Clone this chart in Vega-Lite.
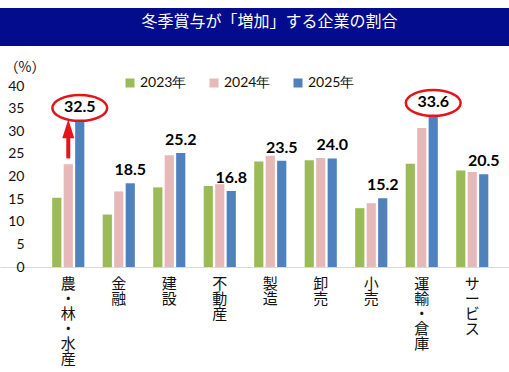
{
  "$schema": "https://vega.github.io/schema/vega-lite/v6.json",
  "padding": {"left": 0, "top": 8, "right": 0, "bottom": 0},
  "background": "white",
  "spacing": 0,
  "config": {"view": {"stroke": null}, "font": "Lato"},
  "vconcat": [
    {
      "width": 509,
      "height": 38,
      "view": {"fill": "#020C8C", "stroke": null},
      "data": {"values": [{"t": "冬季賞与が「増加」する企業の割合"}]},
      "mark": {"type": "text", "color": "white", "fontSize": 16, "font": "Noto Sans CJK JP", "dx": 15, "dy": -5},
      "encoding": {"text": {"field": "t"}}
    },
    {
      "width": 509,
      "height": 221,
      "data": {"values": [
        {"cat": "農・林・水産", "year": "2023年", "value": 15.3},
        {"cat": "農・林・水産", "year": "2024年", "value": 22.7},
        {"cat": "農・林・水産", "year": "2025年", "value": 32.5},
        {"cat": "金融", "year": "2023年", "value": 11.6},
        {"cat": "金融", "year": "2024年", "value": 16.7},
        {"cat": "金融", "year": "2025年", "value": 18.5},
        {"cat": "建設", "year": "2023年", "value": 17.6},
        {"cat": "建設", "year": "2024年", "value": 24.7},
        {"cat": "建設", "year": "2025年", "value": 25.2},
        {"cat": "不動産", "year": "2023年", "value": 17.9},
        {"cat": "不動産", "year": "2024年", "value": 18.3},
        {"cat": "不動産", "year": "2025年", "value": 16.8},
        {"cat": "製造", "year": "2023年", "value": 23.3},
        {"cat": "製造", "year": "2024年", "value": 24.6},
        {"cat": "製造", "year": "2025年", "value": 23.5},
        {"cat": "卸売", "year": "2023年", "value": 23.6},
        {"cat": "卸売", "year": "2024年", "value": 24.1},
        {"cat": "卸売", "year": "2025年", "value": 24.0},
        {"cat": "小売", "year": "2023年", "value": 13.0},
        {"cat": "小売", "year": "2024年", "value": 14.1},
        {"cat": "小売", "year": "2025年", "value": 15.2},
        {"cat": "運輸・倉庫", "year": "2023年", "value": 22.8},
        {"cat": "運輸・倉庫", "year": "2024年", "value": 30.7},
        {"cat": "運輸・倉庫", "year": "2025年", "value": 33.6},
        {"cat": "サービス", "year": "2023年", "value": 21.3},
        {"cat": "サービス", "year": "2024年", "value": 21.0},
        {"cat": "サービス", "year": "2025年", "value": 20.5}
      ]},
      "encoding": {
        "x": {
          "field": "cat", "type": "nominal", "sort": null,
          "scale": {"paddingInner": 0, "paddingOuter": 0.54, "align": 0.789},
          "axis": {
            "title": null, "labelAngle": 0, "labelExpr": "split(datum.label, '')",
            "labelBaseline": "top", "labelPadding": 9, "labelFontSize": 15,
            "labelLineHeight": 15, "labelFont": "Noto Sans CJK JP", "labelColor": "#111",
            "ticks": false, "domainColor": "#D9D9D9", "domainWidth": 1
          }
        },
        "xOffset": {
          "field": "year", "type": "nominal",
          "scale": {"domain": ["2023年", "2024年", "2025年"], "paddingInner": 0.2, "paddingOuter": 0.8}
        },
        "y": {
          "field": "value", "type": "quantitative",
          "scale": {"domain": [0, 48.84], "nice": false},
          "axis": {
            "values": [0, 5, 10, 15, 20, 25, 30, 35, 40], "labelOverlap": false,
            "orient": "left", "offset": -26, "domain": false, "ticks": false, "tickSize": 0,
            "grid": false, "labelFontSize": 14, "labelFont": "Lato", "labelColor": "#111",
            "labelPadding": 2,
            "title": "（%）", "titleAngle": 0, "titleAlign": "left", "titleBaseline": "middle",
            "titleX": -22, "titleY": 21, "titleFontWeight": "normal", "titleFontSize": 14,
            "titleFont": "Noto Sans CJK JP", "titleColor": "#111"
          }
        }
      },
      "layer": [
        {
          "mark": {"type": "bar"},
          "encoding": {
            "color": {
              "field": "year", "type": "nominal",
              "scale": {"domain": ["2023年", "2024年", "2025年"], "range": ["#9BBB59", "#E6B9B8", "#4F81BD"]},
              "legend": {
                "title": null, "orient": "none", "legendX": 123, "legendY": 68,
                "direction": "horizontal", "symbolType": "square", "symbolSize": 81,
                "labelFontSize": 14, "labelFont": "Lato", "labelColor": "#111",
                "labelOffset": 3, "columnPadding": 20
              }
            }
          }
        },
        {
          "transform": [{"filter": "datum.year === '2025年'"}],
          "mark": {"type": "text", "fontWeight": "bold", "fontSize": 16, "font": "Lato", "color": "#000", "baseline": "alphabetic", "dy": -8},
          "encoding": {
            "text": {"field": "value", "type": "quantitative", "format": ".1f"}
          }
        },
        {
          "transform": [{"filter": "datum.year === '2025年' && (datum.cat === '農・林・水産' || datum.cat === '運輸・倉庫')"}],
          "mark": {"type": "point", "shape": "M -1 0 A 1 0.47 0 1 1 1 0 A 1 0.47 0 1 1 -1 0 Z", "size": 3000, "filled": false, "stroke": "#E3151B", "strokeWidth": 2.5, "opacity": 1, "yOffset": -12}
        },
        {
          "data": {"values": [{"cat": "農・林・水産", "year": "2024年", "value": 24.0, "end": 29.5}]},
          "mark": {"type": "rule", "color": "#E3151B", "strokeWidth": 4, "xOffset": -2},
          "encoding": {
            "y2": {"field": "end"}
          }
        },
        {
          "data": {"values": [{"cat": "農・林・水産", "year": "2024年", "value": 30.54}]},
          "mark": {"type": "point", "shape": "M 0 -1 L 0.63 1 L -0.63 1 Z", "size": 361, "filled": true, "color": "#E3151B", "opacity": 1, "xOffset": -1}
        }
      ]
    }
  ]
}
